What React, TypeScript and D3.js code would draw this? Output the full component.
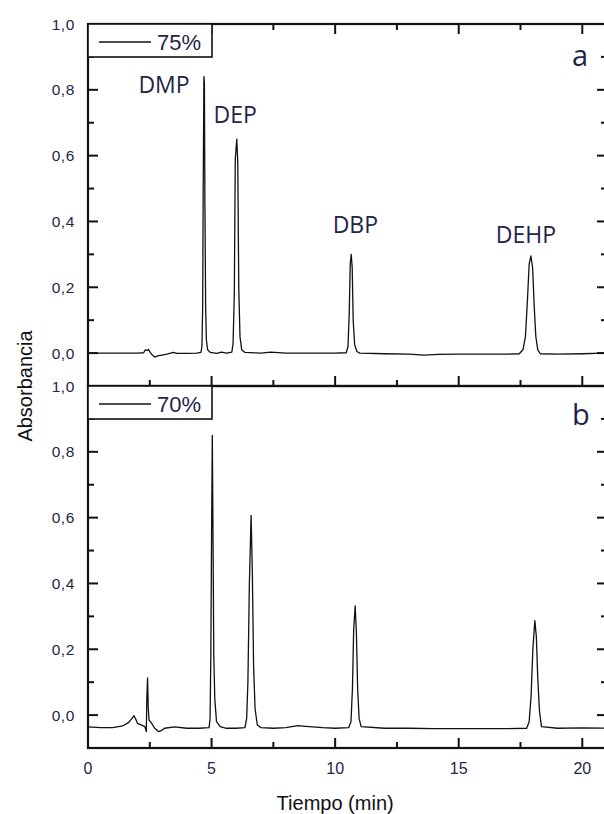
import React from 'react'
import * as d3 from 'd3'

// chromatogram traces: [time (min), absorbance]
const TRACE_75: [number, number][] = [
  [0, 0.0], [1.0, 0.0], [2.0, 0.0], [2.25, 0.001], [2.32, 0.01], [2.4, 0.008], [2.45, 0.011],
  [2.52, 0.002], [2.6, -0.006], [2.7, -0.012], [2.85, -0.008], [3.0, -0.006], [3.2, -0.003],
  [3.45, 0.002], [3.6, -0.001], [4.0, -0.001], [4.4, 0.0], [4.57, 0.002], [4.61, 0.02],
  [4.64, 0.14], [4.66, 0.48], [4.69, 0.84], [4.71, 0.82], [4.73, 0.46], [4.76, 0.14],
  [4.79, 0.04], [4.84, 0.01], [4.95, 0.002], [5.2, -0.001], [5.4, 0.003], [5.6, 0.0],
  [5.82, 0.003], [5.87, 0.03], [5.92, 0.18], [5.96, 0.59], [6.02, 0.65], [6.06, 0.58],
  [6.1, 0.2], [6.15, 0.05], [6.22, 0.01], [6.35, 0.002], [7.0, 0.0], [7.4, 0.003], [8.0, 0.0],
  [9.0, 0.0], [10.0, 0.0], [10.45, 0.001], [10.52, 0.02], [10.57, 0.12], [10.61, 0.27],
  [10.65, 0.3], [10.69, 0.26], [10.73, 0.1], [10.79, 0.025], [10.88, 0.005], [11.0, 0.0],
  [12.0, -0.002], [13.0, -0.003], [13.6, -0.006], [14.2, -0.004], [15.0, -0.003],
  [16.0, -0.003], [17.0, -0.003], [17.45, -0.002], [17.6, 0.01], [17.7, 0.05], [17.78, 0.16],
  [17.85, 0.27], [17.92, 0.295], [17.99, 0.26], [18.05, 0.15], [18.12, 0.05], [18.2, 0.01],
  [18.3, -0.002], [19.0, -0.003], [20.0, -0.002], [21.0, 0.0],
]

const TRACE_70: [number, number][] = [
  [0, -0.036], [0.5, -0.038], [1.0, -0.038], [1.4, -0.033], [1.65, -0.022], [1.78, -0.01],
  [1.86, -0.002], [1.93, -0.012], [2.0, -0.025], [2.15, -0.03], [2.3, -0.035], [2.36, -0.05],
  [2.38, 0.05], [2.41, 0.113], [2.44, 0.02], [2.47, -0.015], [2.55, -0.022], [2.7, -0.04],
  [2.85, -0.05], [2.95, -0.048], [3.1, -0.04], [3.5, -0.036], [4.0, -0.04], [4.5, -0.04],
  [4.9, -0.038], [4.94, -0.01], [4.97, 0.18], [5.0, 0.55], [5.03, 0.85], [5.06, 0.52],
  [5.09, 0.18], [5.13, 0.05], [5.2, -0.02], [5.35, -0.035], [5.6, -0.04], [6.0, -0.04],
  [6.35, -0.038], [6.42, -0.01], [6.47, 0.1], [6.53, 0.4], [6.6, 0.607], [6.65, 0.43],
  [6.7, 0.15], [6.76, 0.02], [6.85, -0.03], [7.0, -0.038], [7.5, -0.04], [8.0, -0.038],
  [8.5, -0.032], [8.8, -0.034], [9.5, -0.038], [10.0, -0.04], [10.55, -0.038], [10.64, -0.02],
  [10.7, 0.08], [10.75, 0.26], [10.81, 0.332], [10.86, 0.25], [10.91, 0.08], [10.97, -0.01],
  [11.05, -0.035], [12.0, -0.04], [13.0, -0.04], [14.0, -0.041], [15.0, -0.041],
  [16.0, -0.041], [17.0, -0.041], [17.75, -0.04], [17.85, -0.02], [17.93, 0.06], [18.0, 0.2],
  [18.08, 0.287], [18.14, 0.24], [18.2, 0.11], [18.27, 0.01], [18.35, -0.035], [19.0, -0.04],
  [20.0, -0.039], [21.0, -0.04],
]

const PEAK_NAMES = ['DMP', 'DEP', 'DBP', 'DEHP']
// label anchor (time, absorbance) for each peak name in panel a
const PEAK_LABEL_POS: [number, number][] = [[2.04, 0.79], [5.08, 0.70], [9.9, 0.365], [16.5, 0.335]]

const X_MAJOR = [0, 5, 10, 15, 20]
const X_MINOR = [2.5, 7.5, 12.5, 17.5]
const Y_MAJOR = [0, 0.2, 0.4, 0.6, 0.8, 1.0]
const Y_LABELS = ['0,0', '0,2', '0,4', '0,6', '0,8', '1,0']
const Y_MINOR = [0.1, 0.3, 0.5, 0.7, 0.9]

const PANELS = [
  { id: 'a', legend: '75%', trace: TRACE_75 },
  { id: 'b', legend: '70%', trace: TRACE_70 },
]

const W = 604
const H = 814
const LEFT = 88
const RIGHT = 607
const TOP = 24
const PANEL_H = 362
const INK = '#111'
const TXT = '#1f2547'

export default function App() {
  const x = d3.scaleLinear().domain([0, 21]).range([LEFT, RIGHT])

  return (
    <svg width={W} height={H} style={{ position: 'absolute', left: 0, top: 0, background: '#fff' }}
      fontFamily="'Liberation Sans', Arial, sans-serif">
      {PANELS.map((p, pi) => {
        const top = TOP + pi * PANEL_H
        const bottom = top + PANEL_H
        const y = d3.scaleLinear().domain([-0.1, 1.0]).range([bottom, top])
        const line = d3.line<[number, number]>().x(d => x(d[0])).y(d => y(d[1]))
        return (
          <g key={p.id}>
            <defs>
              <clipPath id={`clip-${p.id}`}>
                <rect x={LEFT} y={top} width={RIGHT - LEFT} height={PANEL_H} />
              </clipPath>
            </defs>
            <path d={line(p.trace) ?? ''} fill="none" stroke={INK} strokeWidth={1.3}
              strokeLinejoin="round" clipPath={`url(#clip-${p.id})`} />

            {/* left & right y ticks */}
            {Y_MAJOR.map((v, i) => (
              <g key={`ym${v}`}>
                <line x1={LEFT} x2={LEFT + 10} y1={y(v)} y2={y(v)} stroke={INK} strokeWidth={2} />
                <line x1={RIGHT} x2={RIGHT - 10} y1={y(v)} y2={y(v)} stroke={INK} strokeWidth={2} />
                <text x={75} y={y(v) + 5.5} textAnchor="end" fontSize={15.5} fill={TXT}
                  letterSpacing={0.6}>{Y_LABELS[i]}</text>
              </g>
            ))}
            {Y_MINOR.map(v => (
              <g key={`yn${v}`}>
                <line x1={LEFT} x2={LEFT + 6} y1={y(v)} y2={y(v)} stroke={INK} strokeWidth={2} />
                <line x1={RIGHT} x2={RIGHT - 6} y1={y(v)} y2={y(v)} stroke={INK} strokeWidth={2} />
              </g>
            ))}

            {/* top ticks only on panel a, bottom ticks on both */}
            {X_MAJOR.map(v => (
              <g key={`xm${v}`}>
                {pi === 0 && <line x1={x(v)} x2={x(v)} y1={top} y2={top + 10} stroke={INK} strokeWidth={2} />}
                <line x1={x(v)} x2={x(v)} y1={bottom} y2={bottom - 10} stroke={INK} strokeWidth={2} />
              </g>
            ))}
            {X_MINOR.map(v => (
              <g key={`xn${v}`}>
                {pi === 0 && <line x1={x(v)} x2={x(v)} y1={top} y2={top + 6} stroke={INK} strokeWidth={2} />}
                <line x1={x(v)} x2={x(v)} y1={bottom} y2={bottom - 6} stroke={INK} strokeWidth={2} />
              </g>
            ))}

            {/* frame */}
            <rect x={LEFT} y={top} width={RIGHT - LEFT} height={PANEL_H} fill="none" stroke={INK} strokeWidth={2.2} />

            {/* legend */}
            <rect x={LEFT} y={top} width={124} height={33} fill="#fff" stroke={INK} strokeWidth={1.6} />
            <line x1={99} x2={151} y1={top + 18} y2={top + 18} stroke={INK} strokeWidth={1.3} />
            <text x={157} y={top + 26} fontSize={22} fill={TXT}>{p.legend}</text>

            <text x={572} y={top + (pi === 0 ? 42 : 39)} fontSize={29}
              fontFamily="'Open Sans', sans-serif" fill={TXT}>{p.id}</text>

            {pi === 0 && PEAK_NAMES.map((n, i) => (
              <text key={n} x={x(PEAK_LABEL_POS[i][0])} y={y(PEAK_LABEL_POS[i][1])} fontSize={23}
                fontFamily="'Open Sans', sans-serif" fill={TXT}>{n}</text>
            ))}
          </g>
        )
      })}

      {X_MAJOR.map(v => (
        <text key={`xl${v}`} x={x(v)} y={774} textAnchor="middle" fontSize={16} fill={TXT}>{v}</text>
      ))}

      <text x={x(10)} y={810} textAnchor="middle" fontSize={20} fill={INK}>Tiempo (min)</text>
      <text transform={`translate(32, ${TOP + PANEL_H}) rotate(-90)`} textAnchor="middle"
        fontSize={20} fill={INK}>Absorbancia</text>
    </svg>
  )
}
